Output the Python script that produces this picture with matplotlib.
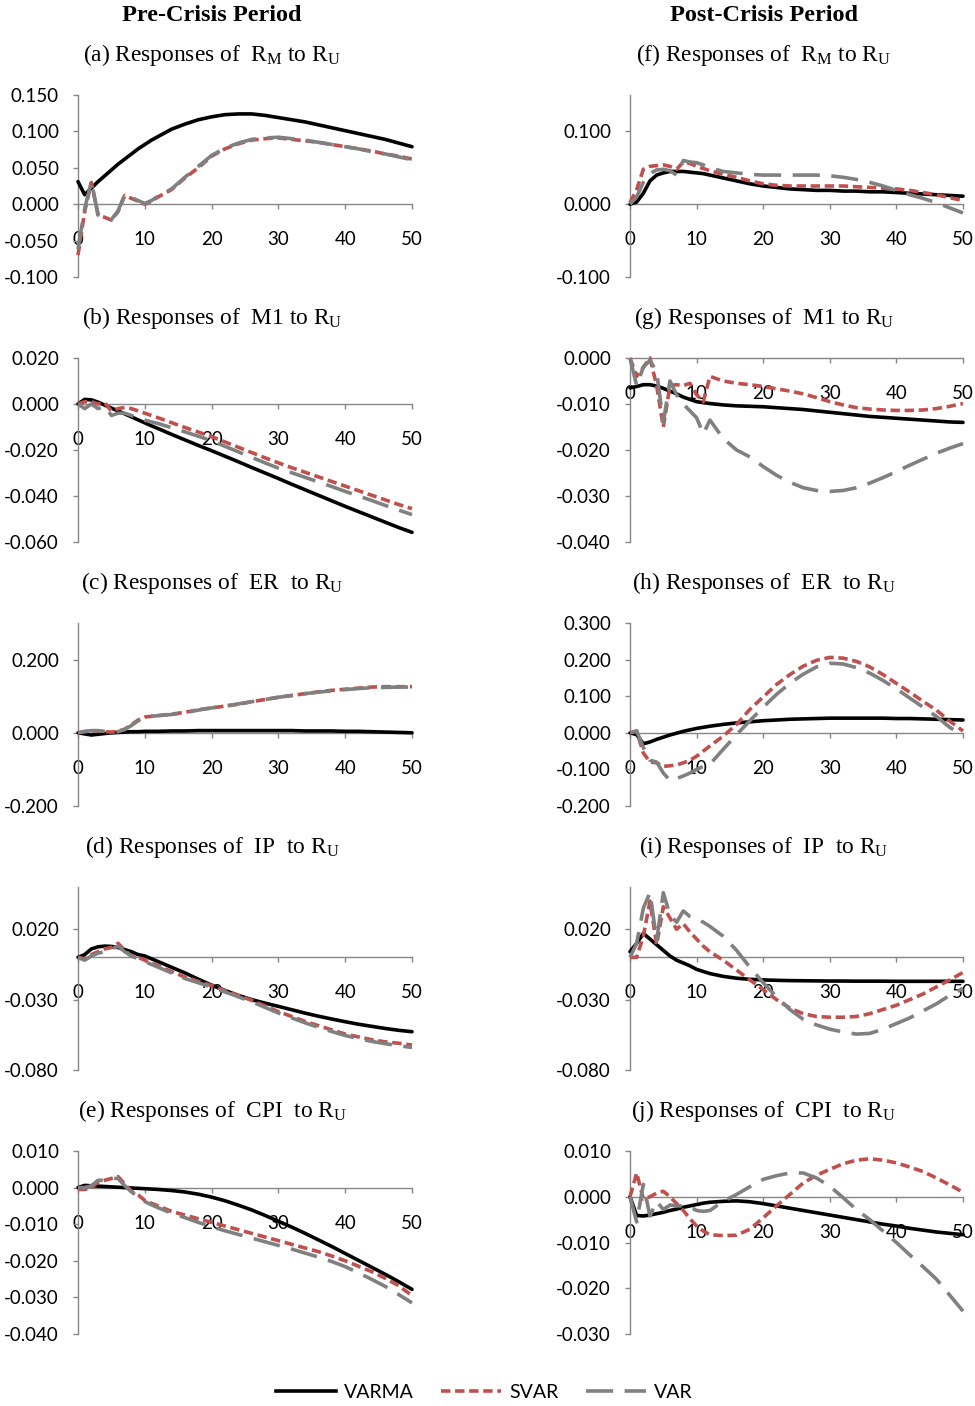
import matplotlib
matplotlib.use('Agg')
import matplotlib.pyplot as plt
from matplotlib.ticker import FuncFormatter
from matplotlib.lines import Line2D

plt.rcParams['axes.unicode_minus'] = False
plt.rcParams['font.family'] = ['Lato', 'DejaVu Sans']

# ---------------- data ----------------
periods = list(range(0, 13)) + list(range(14, 51, 2))

a_varma = [0.031, 0.013, 0.022, 0.031, 0.039, 0.047, 0.055, 0.062, 0.069, 0.076, 0.082, 0.088, 0.093,
           0.103, 0.110, 0.116, 0.120, 0.123, 0.124, 0.124, 0.122, 0.119, 0.116, 0.113, 0.109, 0.105, 0.101, 0.097, 0.093, 0.089, 0.084, 0.079]
a_svar = [-0.070, -0.010, 0.030, -0.015, -0.018, -0.022, -0.010, 0.012, 0.008, 0.004, 0.000, 0.004, 0.010,
          0.020, 0.036, 0.050, 0.066, 0.076, 0.083, 0.088, 0.090, 0.091, 0.089, 0.087, 0.085, 0.082, 0.079, 0.076, 0.073, 0.069, 0.066, 0.062]
a_var = [-0.062, -0.006, 0.031, -0.014, -0.017, -0.021, -0.009, 0.013, 0.009, 0.005, 0.001, 0.005, 0.011,
         0.021, 0.037, 0.052, 0.067, 0.077, 0.084, 0.089, 0.091, 0.092, 0.090, 0.088, 0.085, 0.082, 0.079, 0.076, 0.072, 0.069, 0.065, 0.061]

b_varma = [0.000, 0.0020, 0.0018, 0.0008, -0.0005, -0.0018, -0.0030, -0.0043, -0.0056, -0.0069, -0.0082, -0.0095, -0.0107,
           -0.0132, -0.0156, -0.0180, -0.0203, -0.0227, -0.0251, -0.0276, -0.0300, -0.0324, -0.0349, -0.0373, -0.0397, -0.0421, -0.0445, -0.0468, -0.0491, -0.0514, -0.0537, -0.0558]
b_svar = [0.000, 0.001, 0.001, 0.000, 0.0005, -0.003, -0.002, -0.0015, -0.002, -0.003, -0.004, -0.005, -0.0060,
          -0.0081, -0.0102, -0.0122, -0.0142, -0.0165, -0.0188, -0.0211, -0.0234, -0.0256, -0.0277, -0.0297, -0.0317, -0.0337, -0.0357, -0.0377, -0.0397, -0.0417, -0.0437, -0.0455]
b_var = [0.000, -0.002, 0.000, -0.002, -0.001, -0.005, -0.004, -0.004, -0.005, -0.006, -0.007, -0.0078, -0.0085,
         -0.0103, -0.0121, -0.0140, -0.0160, -0.0184, -0.0208, -0.0232, -0.0256, -0.0279, -0.0299, -0.0319, -0.0339, -0.0359, -0.0380, -0.0400, -0.0420, -0.0441, -0.0461, -0.0481]

c_varma = [0.000, -0.003, -0.006, -0.004, -0.002, 0.000, 0.001, 0.002, 0.003, 0.003, 0.004, 0.004, 0.004,
           0.005, 0.005, 0.006, 0.006, 0.006, 0.006, 0.006, 0.006, 0.006, 0.006, 0.005, 0.005, 0.005, 0.004, 0.004, 0.003, 0.002, 0.001, 0.000]
c_svar = [0.000, 0.003, 0.005, 0.005, 0.003, 0.002, 0.004, 0.010, 0.022, 0.035, 0.043, 0.045, 0.047,
          0.051, 0.056, 0.063, 0.068, 0.073, 0.078, 0.085, 0.091, 0.097, 0.102, 0.107, 0.112, 0.116, 0.119, 0.122, 0.125, 0.126, 0.126, 0.126]
c_var = [0.000, 0.004, 0.006, 0.006, 0.004, 0.002, 0.003, 0.009, 0.020, 0.033, 0.042, 0.045, 0.047,
         0.050, 0.055, 0.062, 0.068, 0.073, 0.079, 0.085, 0.091, 0.097, 0.102, 0.107, 0.111, 0.115, 0.118, 0.121, 0.123, 0.124, 0.125, 0.125]

d_varma = [0.000, 0.002, 0.006, 0.0075, 0.008, 0.0078, 0.007, 0.0055, 0.004, 0.002, 0.001, -0.001, -0.003,
           -0.007, -0.011, -0.0155, -0.0197, -0.0235, -0.027, -0.030, -0.0325, -0.0348, -0.0372, -0.0396, -0.0418, -0.0438, -0.0457, -0.0475, -0.049, -0.0505, -0.0518, -0.0528]
d_svar = [0.000, -0.001, 0.002, 0.004, 0.006, 0.007, 0.010, 0.005, 0.001, 0.000, -0.002, -0.004, -0.006,
          -0.010, -0.014, -0.017, -0.020, -0.0235, -0.027, -0.0305, -0.0345, -0.0385, -0.042, -0.0455, -0.0485, -0.0515, -0.0545, -0.0565, -0.0585, -0.060, -0.061, -0.0623]
d_var = [0.000, -0.002, 0.001, 0.003, 0.004, 0.006, 0.008, 0.004, 0.001, -0.001, -0.003, -0.005, -0.007,
         -0.011, -0.015, -0.018, -0.021, -0.0245, -0.028, -0.0315, -0.0355, -0.0395, -0.043, -0.0465, -0.0497, -0.0527, -0.0555, -0.0577, -0.0597, -0.0613, -0.0627, -0.064]

e_varma = [0.0000, 0.0006, 0.0005, 0.0004, 0.0003, 0.0002, 0.0001, 0.0000, -0.0001, -0.0002, -0.0003, -0.0004, -0.0005,
           -0.0008, -0.0012, -0.0018, -0.0026, -0.0036, -0.0048, -0.0061, -0.0076, -0.0092, -0.0108, -0.0125, -0.0143, -0.0161, -0.0180, -0.0199, -0.0218, -0.0237, -0.0257, -0.0278]
e_svar = [-0.0005, -0.0005, 0.0000, 0.0015, 0.0020, 0.0025, 0.0030, 0.0010, -0.0010, -0.0020, -0.0035, -0.0043, -0.0050,
          -0.0065, -0.0075, -0.0085, -0.0095, -0.0105, -0.0115, -0.0125, -0.0135, -0.0145, -0.0155, -0.0165, -0.0175, -0.0187, -0.0200, -0.0215, -0.0230, -0.0248, -0.0268, -0.0295]
e_var = [0.0000, 0.0000, 0.0005, 0.0020, 0.0020, 0.0025, 0.0025, 0.0005, -0.0012, -0.0025, -0.0038, -0.0047, -0.0055,
         -0.0070, -0.0082, -0.0095, -0.0107, -0.0118, -0.0128, -0.0138, -0.0148, -0.0158, -0.0168, -0.0179, -0.0190, -0.0202, -0.0216, -0.0233, -0.0251, -0.0270, -0.0292, -0.0315]

f_varma = [0.000, 0.003, 0.015, 0.032, 0.040, 0.043, 0.045, 0.045, 0.045, 0.044, 0.043, 0.042, 0.040,
           0.036, 0.032, 0.028, 0.025, 0.023, 0.021, 0.020, 0.019, 0.019, 0.018, 0.018, 0.017, 0.017, 0.016, 0.015, 0.014, 0.013, 0.012, 0.011]
f_svar = [0.002, 0.020, 0.048, 0.052, 0.053, 0.054, 0.052, 0.048, 0.058, 0.056, 0.052, 0.049, 0.046,
          0.041, 0.037, 0.032, 0.028, 0.026, 0.025, 0.025, 0.025, 0.025, 0.025, 0.024, 0.023, 0.022, 0.021, 0.019, 0.016, 0.013, 0.009, 0.005]
f_var = [0.000, 0.010, 0.030, 0.042, 0.047, 0.048, 0.046, 0.040, 0.060, 0.058, 0.057, 0.054, 0.050,
         0.045, 0.043, 0.041, 0.040, 0.040, 0.040, 0.040, 0.040, 0.039, 0.037, 0.034, 0.030, 0.025, 0.019, 0.013, 0.008, 0.002, -0.005, -0.012]

g_varma = [-0.0065, -0.0062, -0.0058, -0.0058, -0.0061, -0.0066, -0.0072, -0.0078, -0.0085, -0.0090, -0.0095, -0.0097, -0.0099,
           -0.0102, -0.0104, -0.0105, -0.0106, -0.0108, -0.0110, -0.0112, -0.0115, -0.0118, -0.0121, -0.0124, -0.0127, -0.0129, -0.0131, -0.0133, -0.0135, -0.0137, -0.0139, -0.0140]
g_svar = [0.000, -0.004, -0.002, 0.000, -0.006, -0.015, -0.006, -0.0058, -0.006, -0.0055, -0.008, -0.0095, -0.0040,
          -0.0050, -0.0055, -0.0058, -0.0062, -0.0067, -0.0072, -0.0078, -0.0086, -0.0095, -0.0102, -0.0108, -0.0111, -0.0113, -0.0114, -0.0114, -0.0113, -0.0110, -0.0105, -0.0099]
g_var = [0.000, -0.006, -0.002, -0.0005, -0.003, -0.014, -0.005, -0.008, -0.010, -0.0115, -0.013, -0.0165, -0.0135,
         -0.0175, -0.0200, -0.0215, -0.0236, -0.0255, -0.0270, -0.0282, -0.0288, -0.0290, -0.0288, -0.0282, -0.0272, -0.0260, -0.0247, -0.0233, -0.0220, -0.0207, -0.0196, -0.0186]

h_varma = [0.000, -0.005, -0.030, -0.025, -0.018, -0.012, -0.006, -0.001, 0.004, 0.008, 0.012, 0.015, 0.018,
           0.023, 0.027, 0.030, 0.033, 0.035, 0.037, 0.038, 0.039, 0.040, 0.040, 0.040, 0.040, 0.040, 0.039, 0.039, 0.038, 0.037, 0.036, 0.035]
h_svar = [0.000, 0.005, -0.055, -0.080, -0.082, -0.092, -0.090, -0.088, -0.082, -0.075, -0.064, -0.050, -0.036,
          -0.009, 0.023, 0.064, 0.098, 0.132, 0.159, 0.182, 0.198, 0.206, 0.204, 0.195, 0.180, 0.159, 0.135, 0.111, 0.086, 0.062, 0.032, 0.005]
h_var = [0.000, 0.005, -0.040, -0.075, -0.080, -0.110, -0.130, -0.125, -0.118, -0.110, -0.100, -0.092, -0.086,
         -0.045, -0.005, 0.033, 0.070, 0.105, 0.135, 0.160, 0.180, 0.190, 0.188, 0.178, 0.163, 0.143, 0.120, 0.095, 0.070, 0.045, 0.015, -0.008]

i_varma = [0.004, 0.010, 0.017, 0.013, 0.009, 0.005, 0.001, -0.002, -0.004, -0.006, -0.0085, -0.010, -0.0115,
           -0.0135, -0.0148, -0.0156, -0.016, -0.0163, -0.0165, -0.0166, -0.0167, -0.0168, -0.0168, -0.0169, -0.0169, -0.0169, -0.017, -0.017, -0.017, -0.017, -0.017, -0.017]
i_svar = [0.000, 0.000, 0.015, 0.040, 0.009, 0.036, 0.028, 0.020, 0.024, 0.018, 0.013, 0.008, 0.004,
          -0.002, -0.009, -0.016, -0.023, -0.030, -0.036, -0.040, -0.042, -0.0425, -0.0425, -0.042, -0.040, -0.037, -0.034, -0.030, -0.026, -0.021, -0.016, -0.0107]
i_var = [0.000, 0.010, 0.035, 0.046, 0.012, 0.046, 0.030, 0.025, 0.033, 0.029, 0.027, 0.025, 0.022,
         0.015, 0.005, -0.007, -0.018, -0.028, -0.037, -0.044, -0.048, -0.051, -0.053, -0.0545, -0.054, -0.051, -0.047, -0.043, -0.038, -0.033, -0.027, -0.022]

j_varma = [0.000, -0.0041, -0.0042, -0.0040, -0.0037, -0.0034, -0.0030, -0.0027, -0.0023, -0.0020, -0.0017, -0.0014, -0.0012,
           -0.0010, -0.0009, -0.0011, -0.0015, -0.0020, -0.0025, -0.0030, -0.0035, -0.0040, -0.0045, -0.0050, -0.0055, -0.0060, -0.0064, -0.0069, -0.0073, -0.0077, -0.0080, -0.0083]
j_svar = [0.000, 0.0052, -0.0005, 0.0000, 0.0008, 0.0012, 0.0000, -0.0015, -0.0030, -0.0048, -0.0064, -0.0075, -0.0083,
          -0.0085, -0.0084, -0.0071, -0.0046, -0.0020, 0.0005, 0.0030, 0.0047, 0.0060, 0.0072, 0.0080, 0.0083, 0.0080, 0.0074, 0.0065, 0.0055, 0.0041, 0.0026, 0.0010]
j_var = [0.000, -0.0055, 0.0027, -0.0042, -0.0010, -0.0028, -0.0018, -0.0020, -0.0020, -0.0022, -0.0030, -0.0032, -0.0030,
         -0.0010, 0.0005, 0.0022, 0.0038, 0.0046, 0.0052, 0.0052, 0.0041, 0.0023, -0.0002, -0.0028, -0.0050, -0.0075, -0.0100, -0.0127, -0.0153, -0.0180, -0.0215, -0.0250]

x_ticks = [0, 10, 20, 30, 40, 50]
series_names = ['VARMA', 'SVAR', 'VAR']
headers = ['Pre-Crisis Period', 'Post-Crisis Period']
titles = [
    r'(a) Responses of  R$_\mathregular{M}$ to R$_\mathregular{U}$',
    r'(b) Responses of  M1 to R$_\mathregular{U}$',
    r'(c) Responses of  ER  to R$_\mathregular{U}$',
    r'(d) Responses of  IP  to R$_\mathregular{U}$',
    r'(e) Responses of  CPI  to R$_\mathregular{U}$',
    r'(f) Responses of  R$_\mathregular{M}$ to R$_\mathregular{U}$',
    r'(g) Responses of  M1 to R$_\mathregular{U}$',
    r'(h) Responses of  ER  to R$_\mathregular{U}$',
    r'(i) Responses of  IP  to R$_\mathregular{U}$',
    r'(j) Responses of  CPI  to R$_\mathregular{U}$',
]
y_ticks = [
    [-0.10, -0.05, 0.0, 0.05, 0.10, 0.15],
    [-0.06, -0.04, -0.02, 0.0, 0.02],
    [-0.2, 0.0, 0.2],
    [-0.08, -0.03, 0.02],
    [-0.04, -0.03, -0.02, -0.01, 0.0, 0.01],
    [-0.1, 0.0, 0.1],
    [-0.04, -0.03, -0.02, -0.01, 0.0],
    [-0.2, -0.1, 0.0, 0.1, 0.2, 0.3],
    [-0.08, -0.03, 0.02],
    [-0.03, -0.02, -0.01, 0.0, 0.01],
]
y_lims = [(-0.10, 0.15), (-0.06, 0.02), (-0.2, 0.3), (-0.08, 0.05), (-0.04, 0.01),
          (-0.10, 0.15), (-0.04, 0.0), (-0.2, 0.3), (-0.08, 0.05), (-0.03, 0.01)]
panel_data = [
    (a_varma, a_svar, a_var), (b_varma, b_svar, b_var), (c_varma, c_svar, c_var),
    (d_varma, d_svar, d_var), (e_varma, e_svar, e_var),
    (f_varma, f_svar, f_var), (g_varma, g_svar, g_var), (h_varma, h_svar, h_var),
    (i_varma, i_svar, i_var), (j_varma, j_svar, j_var),
]

# ---------------- styling ----------------
W, H = 975, 1406
fig = plt.figure(figsize=(W / 100, H / 100), dpi=100)

AXC = '#868686'
COLORS = ['#000000', '#C0504D', '#808080']
LW = 2.6
STYLES = ['-', (0, (2.6, 1.3)), (0, (7.5, 3.2))]
TICK_FS = 13.5
PX = 0.72  # points per pixel

col_x = [(78, 412), (630, 963)]
row_y = [(95, 277), (358, 542), (623, 806), (887, 1070), (1151, 1334)]
title_cx = [212, 764]


def fmt(v, p):
    if abs(v) < 1e-12:
        v = 0.0
    return f'{v:.3f}'


for idx in range(10):
    col = idx // 5
    row = idx % 5
    x0, x1 = col_x[col]
    y0, y1 = row_y[row]
    ax = fig.add_axes([x0 / W, 1 - y1 / H, (x1 - x0) / W, (y1 - y0) / H])
    ax.patch.set_alpha(0)
    ax.set_xlim(0, 50)
    ax.set_ylim(*y_lims[idx])
    for s in ['top', 'right']:
        ax.spines[s].set_visible(False)
    ax.spines['left'].set_color(AXC)
    ax.spines['left'].set_linewidth(1.0)
    ax.spines['bottom'].set_position(('data', 0))
    ax.spines['bottom'].set_color(AXC)
    ax.spines['bottom'].set_linewidth(1.0)
    ax.set_xticks(x_ticks)
    ax.set_yticks(y_ticks[idx])
    ax.yaxis.set_major_formatter(FuncFormatter(fmt))
    ax.tick_params(axis='y', direction='out', length=5 * PX, width=1.0, color=AXC,
                   pad=14 * PX, labelsize=TICK_FS, labelcolor='black')
    ax.tick_params(axis='x', direction='out', length=5 * PX, width=1.0, color=AXC,
                   pad=22 * PX, labelsize=TICK_FS, labelcolor='black')
    for k in range(3):
        ax.plot(periods, panel_data[idx][k], color=COLORS[k], lw=LW, linestyle=STYLES[k],
                clip_on=False, solid_capstyle='round', dash_capstyle='butt', zorder=3 + k)
    fig.text(title_cx[col] / W, 1 - (y0 - 34) / H, titles[idx], ha='center', va='baseline',
             family='Liberation Serif', fontsize=16.8)

for col in range(2):
    fig.text(title_cx[col] / W, 1 - 21 / H, headers[col], ha='center', va='baseline',
             family='Liberation Serif', fontweight='bold', fontsize=17.5)

handles = [Line2D([], [], color=COLORS[k], lw=LW, linestyle=STYLES[k]) for k in range(3)]
fig.legend(handles, series_names, loc='center', bbox_to_anchor=(484 / W, 1 - 1392 / H),
           ncol=3, frameon=False, fontsize=14, handlelength=3.1, handletextpad=0.4,
           columnspacing=1.4)

fig.savefig('out.png', dpi=100)
